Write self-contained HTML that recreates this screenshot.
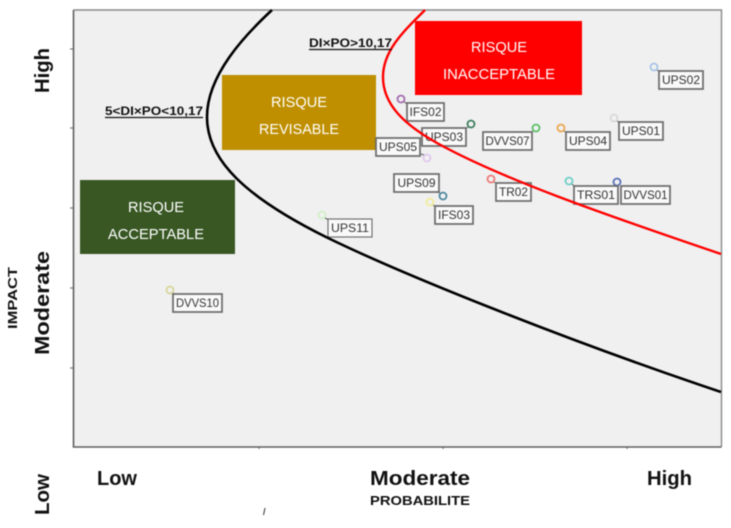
<!DOCTYPE html>
<html>
<head>
<meta charset="utf-8">
<style>
html,body{margin:0;padding:0;background:#fff;width:731px;height:528px;overflow:hidden}
svg{display:block;filter:blur(.4px)}
text{font-family:"Liberation Sans",sans-serif}
.b{font-weight:bold;fill:#111}
.w{fill:#fff;font-size:15px}
.l{fill:#333;font-size:11.5px;text-anchor:middle}
.lb rect{fill:#f9f9f9;stroke:#6a6a6a;stroke-width:1.7}
.c circle{fill:none;stroke-width:1.8}
</style>
</head>
<body>
<svg width="731" height="528" viewBox="0 0 731 528" xmlns="http://www.w3.org/2000/svg">
<rect x="73.5" y="10" width="648" height="437" fill="#f0f0f0"/>
<path d="M73.5,10H721.5V447" fill="none" stroke="#8a8a8a" stroke-width="1.4"/>
<path d="M73.5,10V447H721.5" fill="none" stroke="#5f5f5f" stroke-width="1.6"/>
<path d="M70,49h3M70,128h3M70,208h3M70,288h3M70,368h3M259,447v2M443,447v2M627,447v2" stroke="#666" stroke-width="1"/>

<rect x="415" y="21" width="167" height="74" fill="#ff0000"/>
<rect x="222" y="75" width="154" height="75" fill="#bf8f00"/>
<rect x="80" y="180" width="155" height="74" fill="#385723"/>
<text class="w" x="471" y="52" textLength="56" lengthAdjust="spacingAndGlyphs">RISQUE</text>
<text class="w" x="443" y="79" textLength="112" lengthAdjust="spacingAndGlyphs">INACCEPTABLE</text>
<text class="w" x="271" y="107" textLength="56" lengthAdjust="spacingAndGlyphs">RISQUE</text>
<text class="w" x="259" y="134" textLength="80" lengthAdjust="spacingAndGlyphs">REVISABLE</text>
<text class="w" x="128" y="212" textLength="56" lengthAdjust="spacingAndGlyphs">RISQUE</text>
<text class="w" x="108" y="239" textLength="96" lengthAdjust="spacingAndGlyphs">ACCEPTABLE</text>

<path d="M657,70l3,2M404,102l4,2M468,127l-3,2M533,131l-3,2M564,131l3,2M617,121l3,2M424,155l-3,-1M440,193l-3,-1M433,205l3,2M494,182l3,2M572,184l3,3M617,185v2M325,218l4,2M173,293l2,2" stroke="#555" stroke-width="1"/>

<g class="c">
<circle cx="654" cy="67" r="3.5" stroke="#a9c4e6"/>
<circle cx="401" cy="99" r="3.5" stroke="#a56cb0"/>
<circle cx="471" cy="124" r="3.5" stroke="#3f7f5f"/>
<circle cx="536" cy="128" r="3.5" stroke="#5cbf6a"/>
<circle cx="561" cy="128" r="3.5" stroke="#eda64f"/>
<circle cx="614" cy="118" r="3.5" stroke="#d8d8d8"/>
<circle cx="427" cy="158" r="3.5" stroke="#e0c8ee"/>
<circle cx="443" cy="196" r="3.5" stroke="#4f8a9f"/>
<circle cx="430" cy="202" r="3.5" stroke="#f0ee9a"/>
<circle cx="491" cy="179" r="3.5" stroke="#ec7a7a"/>
<circle cx="569" cy="181" r="3.5" stroke="#70cfc8"/>
<circle cx="617" cy="182" r="3.5" stroke="#5a70b8"/>
<circle cx="322" cy="215" r="3.5" stroke="#d0efc8"/>
<circle cx="170" cy="290" r="3.5" stroke="#d8d59a"/>
</g>

<g class="lb">
<rect x="659" y="71" width="44" height="18"/><text class="l" x="681" y="84" textLength="38" lengthAdjust="spacingAndGlyphs">UPS02</text>
<rect x="407" y="103" width="37" height="18"/><text class="l" x="425.5" y="116" textLength="32" lengthAdjust="spacingAndGlyphs">IFS02</text>
<rect x="422" y="128" width="44" height="18"/><text class="l" x="444" y="141" textLength="38" lengthAdjust="spacingAndGlyphs">UPS03</text>
<rect x="483" y="132" width="49" height="18"/><text class="l" x="507.5" y="145" textLength="44" lengthAdjust="spacingAndGlyphs">DVVS07</text>
<rect x="566" y="132" width="44" height="18"/><text class="l" x="588" y="145" textLength="38" lengthAdjust="spacingAndGlyphs">UPS04</text>
<rect x="619" y="122" width="44" height="18"/><text class="l" x="641" y="135" textLength="38" lengthAdjust="spacingAndGlyphs">UPS01</text>
<rect x="376" y="138" width="44" height="18"/><text class="l" x="398" y="151" textLength="38" lengthAdjust="spacingAndGlyphs">UPS05</text>
<rect x="394" y="174" width="45" height="18"/><text class="l" x="416.5" y="187" textLength="38" lengthAdjust="spacingAndGlyphs">UPS09</text>
<rect x="496" y="183" width="35" height="18"/><text class="l" x="513.5" y="196" textLength="29" lengthAdjust="spacingAndGlyphs">TR02</text>
<rect x="574" y="186" width="44" height="18"/><text class="l" x="596" y="199" textLength="38" lengthAdjust="spacingAndGlyphs">TRS01</text>
<rect x="621" y="186" width="49" height="18"/><text class="l" x="645.5" y="199" textLength="44" lengthAdjust="spacingAndGlyphs">DVVS01</text>
<rect x="435" y="206" width="38" height="18"/><text class="l" x="454" y="219" textLength="32" lengthAdjust="spacingAndGlyphs">IFS03</text>
<rect x="328" y="219" width="44" height="18" style="stroke-width:1.1"/><text class="l" x="350" y="232" textLength="38" lengthAdjust="spacingAndGlyphs">UPS11</text>
<rect x="173" y="294" width="49" height="18"/><text class="l" x="197.5" y="307" textLength="43" lengthAdjust="spacingAndGlyphs">DVVS10</text>
</g>

<path d="M272,10C245,35 207,75 207,117C207,160 245,197 328,238C400,273 560,338 721,392" fill="none" stroke="#000" stroke-width="2.6"/>
<path d="M425,10C405,30 383,50 383,77C383,105 405,125 437,143C500,178 600,213 721,254" fill="none" stroke="#ff0000" stroke-width="2.4"/>

<text class="b" x="309" y="47" font-size="12" textLength="83" lengthAdjust="spacingAndGlyphs">DI×PO&gt;10,17</text>
<path d="M309,49.5H392" stroke="#111" stroke-width="1.2"/>
<text class="b" x="105" y="115" font-size="12" textLength="98" lengthAdjust="spacingAndGlyphs">5&lt;DI×PO&lt;10,17</text>
<path d="M105,117.5H203" stroke="#111" stroke-width="1.2"/>

<text class="b" transform="translate(49,93) rotate(-90)" font-size="20" textLength="45" lengthAdjust="spacingAndGlyphs">High</text>
<text class="b" transform="translate(49,355) rotate(-90)" font-size="20" textLength="104" lengthAdjust="spacingAndGlyphs">Moderate</text>
<text class="b" transform="translate(49,515) rotate(-90)" font-size="20" textLength="41" lengthAdjust="spacingAndGlyphs">Low</text>
<text class="b" transform="translate(17,329) rotate(-90)" font-size="13" textLength="62" lengthAdjust="spacingAndGlyphs">IMPACT</text>

<text class="b" x="97" y="485" font-size="20" textLength="40" lengthAdjust="spacingAndGlyphs">Low</text>
<text class="b" x="370" y="485" font-size="20" textLength="100" lengthAdjust="spacingAndGlyphs">Moderate</text>
<text class="b" x="647" y="485" font-size="20" textLength="45" lengthAdjust="spacingAndGlyphs">High</text>
<text class="b" x="370" y="505" font-size="13" textLength="100" lengthAdjust="spacingAndGlyphs">PROBABILITE</text>
<path d="M265,508L263.5,515" stroke="#333" stroke-width="1"/>
</svg>
</body>
</html>
